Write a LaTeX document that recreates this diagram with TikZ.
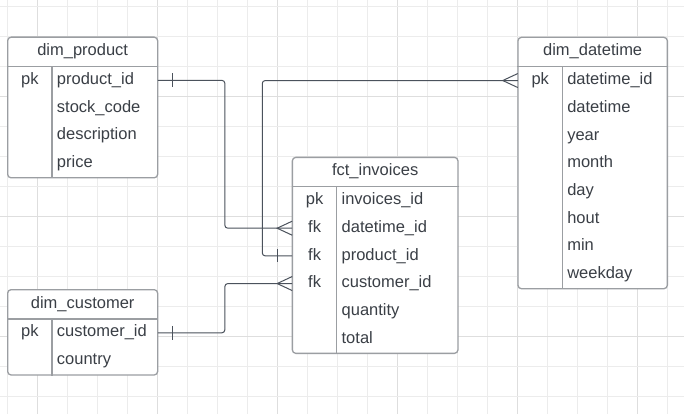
\documentclass[tikz,border=0pt]{standalone}
\usepackage{fontspec}
\setmainfont{Liberation Sans}
\definecolor{gridc}{HTML}{ECECEC}
\definecolor{gridm}{HTML}{DEDEDE}
\definecolor{bordc}{HTML}{9B9EA2}
\definecolor{txtc}{HTML}{3A3F46}
\definecolor{connc}{HTML}{4B525C}
\newcommand\ertable[6]{% #1 name, #2 x, #3 y, #4 width, #5 nrows, #6 title, fields via \erfields
  \node[tbl, minimum width=#4pt, minimum height={30pt+#5*27.67pt}] (#1) at (#2,#3) {};
  \draw[tline] ([yshift=-30pt]#1.north west) -- ([yshift=-30pt]#1.north east);
  \draw[tline] ([shift={(45pt,-30pt)}]#1.north west) -- ([xshift=45pt]#1.south west);
  \node[lbl] (#1-t) at ([yshift=-15pt]#1.north) {#6};
}
\newcommand\erfields[3]{% #1 name, #2 width, #3 list
  \foreach \f [count=\i] in {#3} {
    \node[rowbox, minimum width=#2pt] (#1-r\i) at ([yshift={-30pt-(\i-0.5)*27.67pt}]#1.north) {};
    \node[lbl, anchor=west] (#1-f\i) at ([xshift=49.3pt]#1-r\i.west) {\f};
  }
}
\begin{document}
\begin{tikzpicture}[x=1pt,y=-1pt,
  gridminor/.style={draw=gridc, line width=0.9pt},
  gridmajor/.style={draw=gridm, line width=0.9pt},
  tbl/.style={draw=bordc, fill=white, line width=1.3pt, rounded corners=3.5pt, inner sep=0pt, anchor=north west},
  tline/.style={draw=bordc, line width=1.3pt},
  rowbox/.style={inner sep=0pt, minimum height=27.67pt},
  lbl/.style={text=txtc, inner sep=0pt, text height=11.8pt, text depth=3.5pt, font=\fontsize{16.5}{20}\selectfont},
  conn/.style={draw=connc, line width=1pt, rounded corners=3pt},
  foot/.style={draw=connc, line width=1pt},
]
\path[fill=white] (0,0) rectangle (684,414);
\useasboundingbox (0,0) rectangle (684,414);
% grid
\foreach \i in {0,...,22} {
  \pgfmathtruncatemacro\m{mod(\i,4)}
  \ifnum\m=1 \draw[gridmajor] (7.5+30*\i,0) -- (7.5+30*\i,414);
  \else \draw[gridminor] (7.5+30*\i,0) -- (7.5+30*\i,414); \fi
}
\foreach \j in {0,...,13} {
  \pgfmathtruncatemacro\m{mod(\j,4)}
  \ifnum\m=3 \draw[gridmajor] (0,6+30*\j) -- (684,6+30*\j);
  \else \draw[gridminor] (0,6+30*\j) -- (684,6+30*\j); \fi
}
% tables
\ertable{prod}{7}{36.5}{150}{4}{dim\_product}
\erfields{prod}{150}{product\_id,stock\_code,description,price}
\node[lbl] (prod-k1) at ([xshift=22.5pt]prod-r1.west) {pk};

\ertable{cust}{7}{289}{150}{2}{dim\_customer}
\erfields{cust}{150}{customer\_id,country}
\node[lbl] (cust-k1) at ([xshift=22.5pt]cust-r1.west) {pk};

\ertable{fct}{291.7}{156.7}{165.6}{6}{fct\_invoices}
\erfields{fct}{165.6}{invoices\_id,datetime\_id,product\_id,customer\_id,quantity,total}
\node[lbl] (fct-k1) at ([xshift=22.5pt]fct-r1.west) {pk};
\node[lbl] (fct-k2) at ([xshift=22.5pt]fct-r2.west) {fk};
\node[lbl] (fct-k3) at ([xshift=22.5pt]fct-r3.west) {fk};
\node[lbl] (fct-k4) at ([xshift=22.5pt]fct-r4.west) {fk};

\ertable{dt}{517.3}{36.7}{149.4}{8}{dim\_datetime}
\erfields{dt}{149.4}{datetime\_id,datetime,year,month,day,hout,min,weekday}
\node[lbl] (dt-k1) at ([xshift=22.5pt]dt-r1.west) {pk};

% connectors
\draw[conn] (prod-r1.east) -- ++(67,0) |- (fct-r2.west);
\draw[conn] (dt-r1.west) -- ++(-255.5,0) |- (fct-r3.west);
\draw[conn] (cust-r1.east) -- ++(67,0) |- (fct-r4.west);
% crow's feet
\foreach \n in {fct-r2,fct-r4} {
  \draw[foot] ([yshift=7pt]\n.west) -- ([xshift=-15pt]\n.west) -- ([yshift=-7pt]\n.west);
}
\draw[foot] ([yshift=7pt]dt-r1.west) -- ([xshift=-15pt]dt-r1.west) -- ([yshift=-7pt]dt-r1.west);
% bars
\draw[foot] ([shift={(-15pt,6.5pt)}]fct-r3.west) -- ([shift={(-15pt,-6.5pt)}]fct-r3.west);
\draw[foot] ([shift={(15pt,7pt)}]prod-r1.east) -- ([shift={(15pt,-7pt)}]prod-r1.east);
\draw[foot] ([shift={(15pt,7pt)}]cust-r1.east) -- ([shift={(15pt,-7pt)}]cust-r1.east);
\end{tikzpicture}
\end{document}
